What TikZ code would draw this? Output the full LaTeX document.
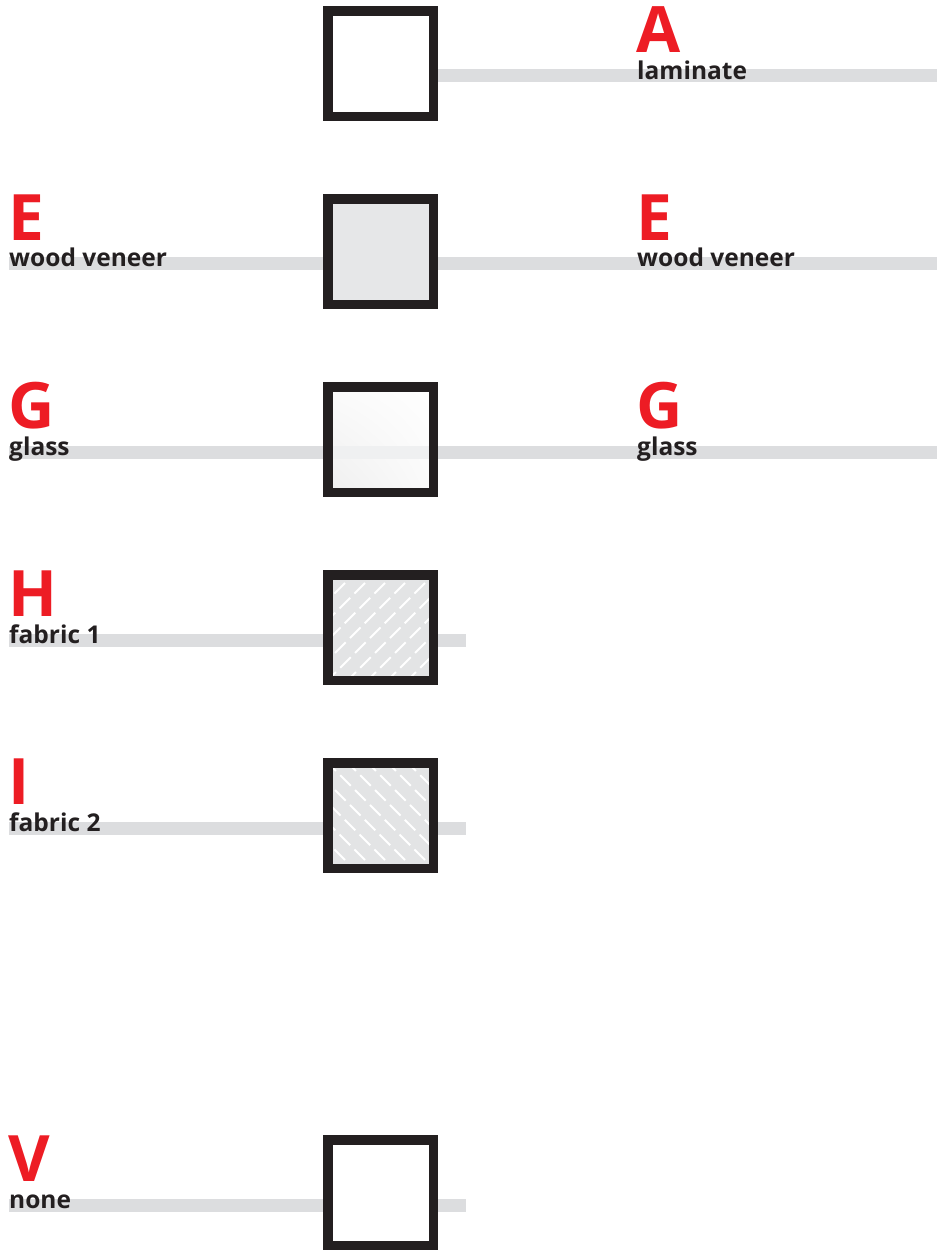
\documentclass[tikz,border=0pt]{standalone}
\usepackage{fontspec}
\setmainfont{Open Sans}
\usetikzlibrary{backgrounds,shadings}
\definecolor{codeRed}{RGB}{237,28,36}
\definecolor{frameDark}{RGB}{35,31,32}
\definecolor{stripGray}{RGB}{220,221,223}
\definecolor{veneerGray}{RGB}{230,231,232}
\definecolor{fabricGray}{RGB}{227,228,229}

\begin{document}
\begin{tikzpicture}[x=1pt, y=-1pt,
    tile/.style={draw=frameDark, line width=9.5pt, minimum size=105.5pt, inner sep=0pt, fill=white},
    strip/.style={stripGray, line width=13pt},
    code/.style={anchor=base west, inner sep=0pt, text=codeRed, font=\fontsize{64}{64}\selectfont\bfseries},
    lbl/.style={anchor=base west, inner sep=0pt, text=frameDark, font=\fontsize{24.5}{24.5}\selectfont\bfseries},
    fabricA/.style={fill=fabricGray, path picture={
        \foreach \k in {-140,-120,...,140}
            \draw[white, line width=1.8pt, dash pattern=on 15pt off 6pt, shift={(path picture bounding box.center)}] (\k-70,70) -- ++(140,-140);}},
    fabricB/.style={fill=fabricGray, path picture={
        \foreach \k in {-140,-120,...,140}
            \draw[white, line width=1.8pt, dash pattern=on 15pt off 6pt, shift={(path picture bounding box.center)}] (\k-70,-70) -- ++(140,140);}},
    glassy/.style={path picture={
        \shade[lower left=gray!14, upper right=white, lower right=white!97!gray, upper left=white!97!gray, shift={(path picture bounding box.center)}] (-60,-60) rectangle (60,60);
        \fill[stripGray!45, shift={(path picture bounding box.center)}] (-60,6) rectangle (60,19);}}]
    \useasboundingbox (0,0) rectangle (937,1250);

    % squares
    \node[tile] (sqA) at (380.5,63.5) {};
    \node[tile, fill=veneerGray] (sqE) at (380.5,251.5) {};
    \node[tile, glassy] (sqG) at (380.5,439.5) {};
    \node[tile, fabricA] (sqH) at (380.5,627.5) {};
    \node[tile, fabricB] (sqI) at (380.5,815.5) {};
    \node[tile] (sqV) at (380.5,1192.5) {};

    % strip ends
    \coordinate (endA) at (937,75);
    \coordinate (startE) at (9,263);
    \coordinate (endE) at (937,263);
    \coordinate (startG) at (9,452);
    \coordinate (endG) at (937,452);
    \coordinate (startH) at (9,640);
    \coordinate (endH) at (466,640);
    \coordinate (startI) at (9,828);
    \coordinate (endI) at (466,828);
    \coordinate (startV) at (9,1205);
    \coordinate (endV) at (466,1205);

    \begin{scope}[on background layer]
        \draw[strip] (sqA.center |- endA) -- (endA);
        \draw[strip] (startE) -- (endE);
        \draw[strip] (startG) -- (endG);
        \draw[strip] (startH) -- (endH);
        \draw[strip] (startI) -- (endI);
        \draw[strip] (startV) -- (endV);
    \end{scope}

    % labels right
    \node[code] (codeAr) at (636,52) {A};
    \node[lbl] (txtAr) at (637,79) {laminate};
    \node[code] (codeEr) at (636,240) {E};
    \node[lbl] (txtEr) at (637,266) {wood veneer};
    \node[code] (codeGr) at (636,428) {G};
    \node[lbl] (txtGr) at (637,455) {glass};

    % labels left
    \node[code] (codeEl) at (8,240) {E};
    \node[lbl] (txtEl) at (9,266) {wood veneer};
    \node[code] (codeGl) at (8,428) {G};
    \node[lbl] (txtGl) at (9,455) {glass};
    \node[code] (codeHl) at (8,616) {H};
    \node[lbl] (txtHl) at (9,643) {fabric 1};
    \node[code] (codeIl) at (8,804) {I};
    \node[lbl] (txtIl) at (9,831) {fabric 2};
    \node[code] (codeVl) at (8,1181) {V};
    \node[lbl] (txtVl) at (9,1208) {none};
\end{tikzpicture}
\end{document}
